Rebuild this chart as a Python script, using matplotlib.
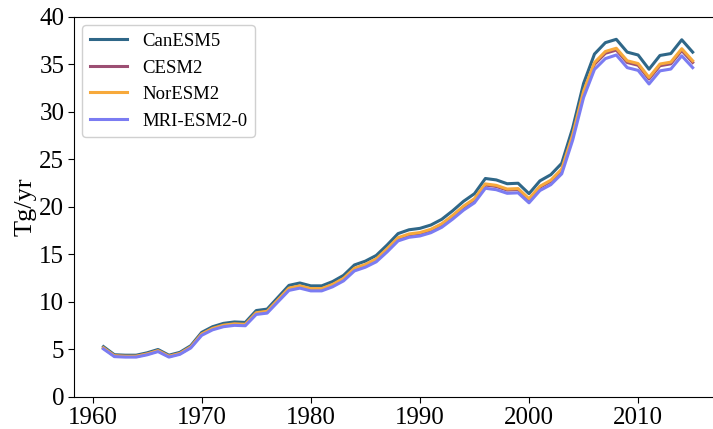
import numpy as np
import matplotlib
matplotlib.use("Agg")
import matplotlib.pyplot as plt

plt.rcParams['font.family'] = ['Liberation Serif', 'DejaVu Serif']
plt.rcParams['mathtext.fontset'] = 'stix'

# --[Data]---------------------------------------------------------------------
years = np.arange(1961, 2016)

canesm5 = [5.30, 4.45, 4.40, 4.40, 4.65, 5.00, 4.40, 4.70, 5.40, 6.80,
           7.40, 7.75, 7.90, 7.85, 9.10, 9.25, 10.50, 11.75, 12.00, 11.70,
           11.70, 12.15, 12.80, 13.90, 14.30, 14.90, 16.00, 17.20, 17.60, 17.75,
           18.10, 18.70, 19.60, 20.60, 21.40, 23.00, 22.85, 22.45, 22.50, 21.40,
           22.75, 23.40, 24.60, 28.30, 33.00, 36.10, 37.30, 37.65, 36.30, 36.00,
           34.50, 35.95, 36.15, 37.60, 36.30]

cesm2 = [5.14, 4.32, 4.27, 4.27, 4.51, 4.85, 4.27, 4.56, 5.24, 6.60,
         7.18, 7.52, 7.66, 7.61, 8.83, 8.97, 10.19, 11.40, 11.64, 11.35,
         11.35, 11.79, 12.42, 13.48, 13.87, 14.45, 15.52, 16.68, 17.07, 17.22,
         17.56, 18.14, 19.01, 19.98, 20.76, 22.31, 22.16, 21.78, 21.83, 20.76,
         22.07, 22.70, 23.86, 27.45, 32.01, 35.02, 36.18, 36.52, 35.21, 34.92,
         33.47, 34.87, 35.07, 36.47, 35.21]

noresm2 = [5.17, 4.34, 4.29, 4.29, 4.53, 4.88, 4.29, 4.58, 5.27, 6.63,
           7.22, 7.56, 7.70, 7.65, 8.87, 9.02, 10.24, 11.46, 11.70, 11.41,
           11.41, 11.85, 12.48, 13.55, 13.94, 14.53, 15.60, 16.77, 17.16, 17.31,
           17.65, 18.23, 19.11, 20.09, 20.87, 22.43, 22.28, 21.89, 21.94, 20.87,
           22.18, 22.82, 23.99, 27.59, 32.18, 35.20, 36.37, 36.71, 35.39, 35.10,
           33.64, 35.05, 35.25, 36.66, 35.39]

mri_esm2 = [5.06, 4.25, 4.20, 4.20, 4.44, 4.78, 4.20, 4.49, 5.16, 6.49,
            7.07, 7.40, 7.54, 7.50, 8.69, 8.83, 10.03, 11.22, 11.46, 11.17,
            11.17, 11.60, 12.22, 13.27, 13.66, 14.23, 15.28, 16.43, 16.81, 16.95,
            17.29, 17.86, 18.72, 19.67, 20.44, 21.97, 21.82, 21.44, 21.49, 20.44,
            21.73, 22.35, 23.49, 27.03, 31.52, 34.48, 35.62, 36.00, 34.67, 34.38,
            32.95, 34.33, 34.52, 35.91, 34.67]

# --[Plot]-----------------------------------------------------------------------
fig = plt.figure(figsize=(7.13, 4.29), dpi=100)
# right edge of the axes sits just outside the figure, as in the reference
ax = fig.add_axes([0.1038, 0.0746, 0.909, 0.8858])

ax.plot(years, canesm5, color='#2f6788', lw=2.2, label='CanESM5')
ax.plot(years, cesm2, color='#9c4f73', lw=2.2, label='CESM2')
ax.plot(years, noresm2, color='#f7a93b', lw=2.2, label='NorESM2')
ax.plot(years, mri_esm2, color='#7b7cf2', lw=2.2, label='MRI-ESM2-0')

ax.set_ylim(0, 40)
ax.set_yticks(range(0, 41, 5))
ax.set_xticks(range(1960, 2011, 10))
ax.tick_params(labelsize=18, length=4, pad=3)
ax.set_ylabel('Tg/yr', fontsize=19, labelpad=2)

ax.legend(loc='upper left', fontsize=13.5, framealpha=1, edgecolor='#d0d0d0',
          borderaxespad=0.45)

fig.savefig('out.png', dpi=100)
